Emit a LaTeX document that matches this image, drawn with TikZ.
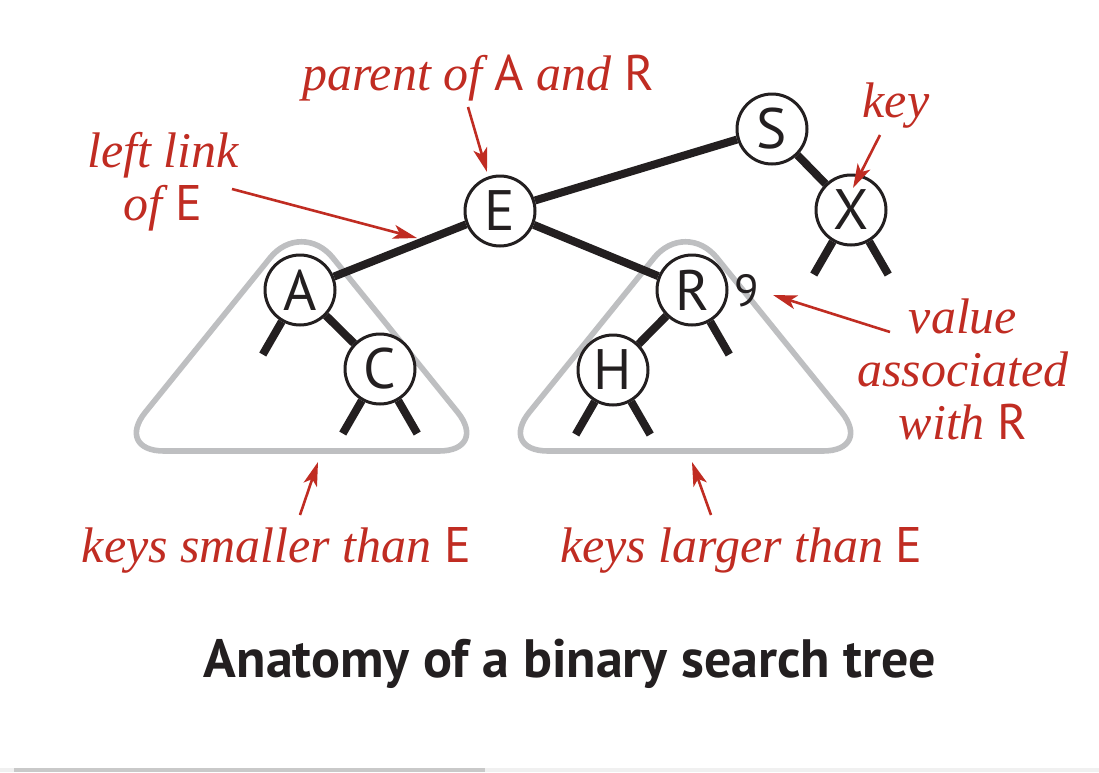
\documentclass[tikz,border=0pt]{standalone}
\usepackage{fontspec}
\setmainfont{Liberation Serif}
\setsansfont{PT Sans}
\usetikzlibrary{arrows.meta}
\definecolor{noteclr}{RGB}{192,44,34}
\definecolor{treeclr}{RGB}{35,31,32}
\definecolor{subclr}{RGB}{190,191,193}
\newcommand{\keyname}[1]{{\upshape\sffamily #1}}

\begin{document}
\begin{tikzpicture}[x=0.5pt, y=-0.5pt,
    bstnode/.style={circle, draw=treeclr, line width=1.5pt, fill=white,
          minimum size=35pt, inner sep=0pt,
          font=\fontsize{28.5}{32}\selectfont\sffamily\color{treeclr}},
    link/.style={treeclr, line width=4pt},
    subtree/.style={subclr, line width=2.8pt, rounded corners=25pt},
    note/.style={noteclr, font=\fontsize{25}{26.5}\selectfont\itshape},
    callout/.style={noteclr, line width=1.3pt,
          -{Stealth[length=12pt, width=7pt, inset=3pt]}}]

    \useasboundingbox[fill=white] (0,0) rectangle (1099,772);
    % scroll bar
    \fill[black!6] (0,768) rectangle (1099,772);
    \fill[black!21] (14,768) rectangle (485,772);

    % subtrees
    \draw[subtree] (301.5,451) -- (489,451) -- (301.5,219) -- (114,451) -- cycle;
    \draw[subtree] (685.5,451) -- (873,451) -- (685.5,219) -- (498,451) -- cycle;

    % keys
    \node[bstnode] (E) at (500,211) {E};
    \node[bstnode] (S) at (772,129) {S};
    \node[bstnode] (X) at (851,210) {X};
    \node[bstnode] (A) at (300,290) {A};
    \node[bstnode] (C) at (380,369) {C};
    \node[bstnode] (R) at (692,290) {R};
    \node[bstnode] (H) at (613,370) {H};
    \node[font=\fontsize{22.5}{26}\selectfont\sffamily, text=treeclr] (val) at (747,291) {9};

    % links
    \draw[link] (E) -- (S);
    \draw[link] (S) -- (X);
    \draw[link] (E) -- (A);
    \draw[link] (A) -- (C);
    \draw[link] (E) -- (R);
    \draw[link] (R) -- (H);
    % null links
    \draw[link] (A.-120) -- ++(-120:19pt);
    \draw[link] (C.-120) -- ++(-120:19pt);
    \draw[link] (C.-60) -- ++(-60:19pt);
    \draw[link] (H.-120) -- ++(-120:19pt);
    \draw[link] (H.-60) -- ++(-60:19pt);
    \draw[link] (R.-60) -- ++(-60:19pt);
    \draw[link] (X.-120) -- ++(-120:19pt);
    \draw[link] (X.-60) -- ++(-60:19pt);

    % notes
    \node[note, anchor=base] (parentlbl) at (478,90) {parent of \keyname{A} and \keyname{R}};
    \node[note, align=center] (leftlbl) at (163,182) {left link\\of \keyname{E}};
    \node[note, anchor=base] (keylbl) at (896,117) {key};
    \node[note, align=center] (valuelbl) at (963,369) {value\\associated\\with \keyname{R}};
    \node[note, anchor=base] (smallerlbl) at (276.5,562) {keys smaller than \keyname{E}};
    \node[note, anchor=base] (largerlbl) at (741.5,562) {keys larger than \keyname{E}};
    \node[anchor=base, text=treeclr,
          font=\fontsize{27}{30}\selectfont\sffamily\bfseries] (caption) at (570,677) {Anatomy of a binary search tree};

    % callouts
    \coordinate (parenttail) at (468,107);
    \coordinate (parenttip) at (487,172);
    \coordinate (lefttail) at (232,189);
    \coordinate (lefttip) at (417,238);
    \coordinate (keytail) at (880,135);
    \coordinate (keytip) at (853,188);
    \coordinate (valuetail) at (890,332);
    \coordinate (valuetip) at (773,295);
    \coordinate (smallertail) at (300,515);
    \coordinate (smallertip) at (318,462);
    \coordinate (largertail) at (711,515);
    \coordinate (largertip) at (692,462);
    \draw[callout] (parenttail) -- (parenttip);
    \draw[callout] (lefttail) -- (lefttip);
    \draw[callout] (keytail) -- (keytip);
    \draw[callout] (valuetail) -- (valuetip);
    \draw[callout] (smallertail) -- (smallertip);
    \draw[callout] (largertail) -- (largertip);
  \end{tikzpicture}
\end{document}
